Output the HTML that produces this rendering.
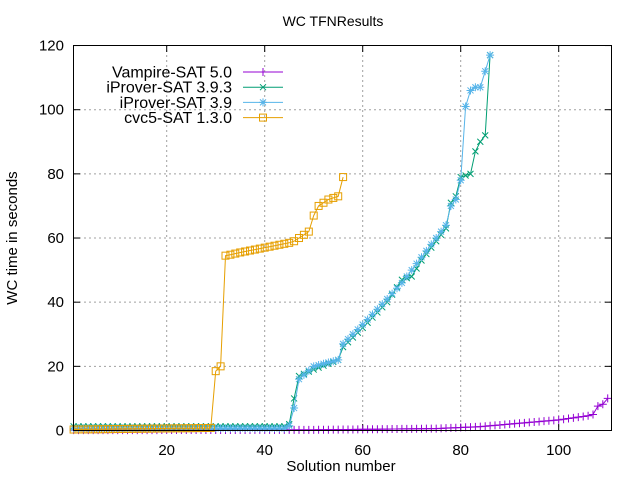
<!DOCTYPE html>
<html><head><meta charset="utf-8"><style>
body{margin:0;background:#fff}
svg{display:block;font-family:"Liberation Sans",sans-serif}
</style></head><body>
<svg id="s" width="640" height="480" xmlns="http://www.w3.org/2000/svg">
<rect width="640" height="480" fill="#fff"/>
<g id="grid" stroke="#a0a0a0" stroke-width="1" stroke-dasharray="2,3"></g>
<g id="ticks" stroke="#000" stroke-width="1"></g>
<g id="labels" font-size="15" fill="#000"></g>
<g id="series" fill="none" stroke-width="1"></g>
<rect x="73.5" y="45.5" width="538" height="385" fill="none" stroke="#000" stroke-width="1"/>
<text x="333" y="26" font-size="14" text-anchor="middle">WC TFNResults</text>
<text x="341" y="471" font-size="15" text-anchor="middle">Solution number</text>
<text transform="translate(17,238) rotate(-90)" font-size="15" text-anchor="middle">WC time in seconds</text>
<g id="legend" font-size="16"></g>
</svg>
<script>
var NS="http://www.w3.org/2000/svg";
function X(v){return 68.7+4.9*v;}
function Y(v){return 430.5-3.208*v;}
function el(p,t,a,txt){var e=document.createElementNS(NS,t);for(var k in a)e.setAttribute(k,a[k]);if(txt!==undefined)e.textContent=txt;document.getElementById(p).appendChild(e);return e;}
for(var v=20;v<=100;v+=20){el("grid","line",{x1:X(v),x2:X(v),y1:45,y2:430});el("ticks","line",{x1:X(v),x2:X(v),y1:430,y2:424});el("ticks","line",{x1:X(v),x2:X(v),y1:46,y2:52});el("labels","text",{x:X(v),y:455,"text-anchor":"middle"},v);}
for(var v=0;v<=120;v+=20){if(v>0&&v<120){el("grid","line",{x1:74,x2:611,y1:Y(v),y2:Y(v)});}el("ticks","line",{x1:74,x2:80,y1:Y(v),y2:Y(v)});el("ticks","line",{x1:611,x2:605,y1:Y(v),y2:Y(v)});el("labels","text",{x:64,y:Y(v)+5,"text-anchor":"end"},v);}
function interp(keys,n0,n1){var r=[];for(var x=n0;x<=n1;x++){for(var i=0;i<keys.length-1;i++){if(x>=keys[i][0]&&x<=keys[i+1][0]){var a=keys[i],b=keys[i+1];var t=b[0]==a[0]?0:(x-a[0])/(b[0]-a[0]);r.push([x,a[1]+(b[1]-a[1])*t]);break;}}}return r;}
var vamp=interp([[1,0.1],[50,0.2],[75,0.6],[84,1.2],[90,2],[100,3.3],[106,4.6],[107,5],[108,7.6],[109,8.2],[110,10]],1,110);
var ip393=interp([[1,1.3],[44,1.3],[45,2],[46,10],[47,17],[50,19],[55,22],[56,26],[60,32],[65,40],[68,47],[70,48],[72,53],[75,59],[77,63],[78,71],[79,73],[80,79],[82,80],[83,87],[84,90],[85,92],[86,117]],1,86);
var ip39=interp([[1,0.7],[44,0.7],[45,1.5],[46,7],[47,16],[50,20],[55,22],[56,27],[60,33],[65,41],[68,46],[70,50],[72,54],[75,60],[77,64],[78,70],[79,72],[80,78],[81,101],[82,106],[83,107],[84,107],[86,117]],1,86);
var cvc=interp([[1,0.3],[29,0.8],[30,18.5],[31,20],[32,54.5],[33,54.8],[35,55.5],[40,57],[45,58.5],[46,59],[47,60],[48,61],[49,62],[50,67],[51,70],[52,71],[53,72],[54,72.5],[55,73],[56,79]],1,56);
function pts(d){return d.map(function(p){return X(p[0]).toFixed(1)+","+Y(p[1]).toFixed(1);}).join(" ");}
function mark(type,x,y,c,g){var s=4;
 if(type=="plus"){el(g,"path",{d:"M"+(x-s)+" "+y+"h"+2*s+"M"+x+" "+(y-s)+"v"+2*s,stroke:c});}
 else if(type=="x"){el(g,"path",{d:"M"+(x-3)+" "+(y-3)+"l6 6M"+(x-3)+" "+(y+3)+"l6 -6",stroke:c});}
 else if(type=="star"){el(g,"path",{d:"M"+(x-4)+" "+y+"h8M"+x+" "+(y-4)+"v8M"+(x-3)+" "+(y-3)+"l6 6M"+(x-3)+" "+(y+3)+"l6 -6",stroke:c});}
 else {el(g,"rect",{x:x-3.5,y:y-3.5,width:7,height:7,stroke:c,fill:"none"});}}
var S=[["Vampire-SAT 5.0","#9400d3","plus",vamp],["iProver-SAT 3.9.3","#009e73","x",ip393],["iProver-SAT 3.9","#56b4e9","star",ip39],["cvc5-SAT 1.3.0","#e69f00","sq",cvc]];
S.forEach(function(s,i){el("series","polyline",{points:pts(s[3]),stroke:s[1]});s[3].forEach(function(p){mark(s[2],X(p[0]),Y(p[1]),s[1],"series");});
 var ly=72+15.2*i;el("legend","text",{x:232,y:ly+5.5,"text-anchor":"end"},s[0]);el("legend","line",{x1:243,x2:283,y1:ly,y2:ly,stroke:s[1]});mark(s[2],263,ly,s[1],"legend");});
</script>
</body></html>
